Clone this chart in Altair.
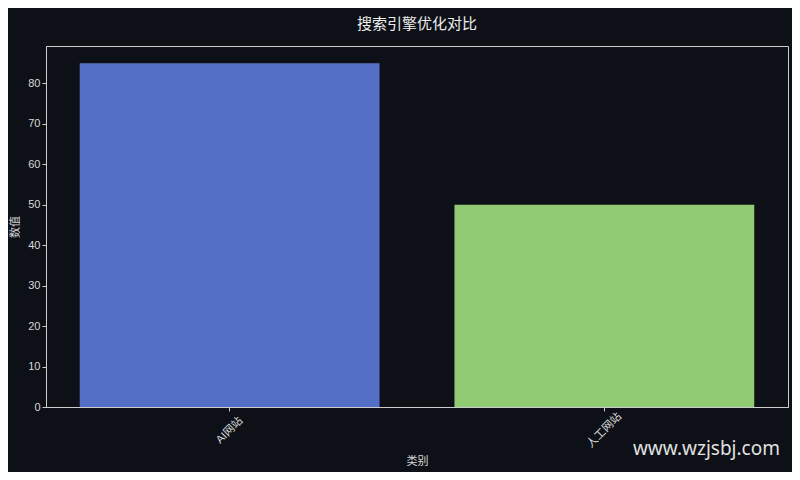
import altair as alt
import pandas as pd

categories = ["AI网站", "人工网站"]
values = [85, 50]
colors = ["#5470c6", "#91cc75"]
watermark = "www.wzjsbj.com"

df = pd.DataFrame({"类别": categories, "数值": values, "color": colors})

FONT = "Liberation Sans, Noto Sans CJK SC, sans-serif"
BG = "#0d1017"

bars = alt.Chart(df).mark_bar().encode(
    x=alt.X("类别:N", sort=categories,
            scale=alt.Scale(paddingInner=0.2, paddingOuter=0.09),
            axis=alt.Axis(title="类别", labelAngle=-45, labelAlign="center",
                          labelBaseline="middle", labelPadding=19)),
    y=alt.Y("数值:Q", scale=alt.Scale(domain=[0, 89.25], nice=False, zero=True),
            axis=alt.Axis(title="数值", values=list(range(0, 90, 10)))),
    color=alt.Color("color:N", scale=None),
)

wm = alt.Chart(pd.DataFrame({"t": [watermark]})).mark_text(
    align="right", baseline="alphabetic", fontSize=19, font="Noto Sans",
    color="#e0e0e0", clip=False,
).encode(x=alt.value(734), y=alt.value(409), text="t:N")

chart = alt.layer(bars, wm).properties(
    width=742, height=361,
    background=BG,
    padding={"left": 38, "top": 38, "right": 4, "bottom": 65},
    autosize=alt.AutoSizeParams(type="none"),
    title=alt.TitleParams("搜索引擎优化对比", fontSize=15, font=FONT, color="#eeeeee",
                          fontWeight="normal", anchor="middle", offset=14),
).configure_view(
    stroke="#cccccc", strokeWidth=1, fill=BG,
).configure_axis(
    labelFont=FONT, titleFont=FONT, labelColor="#d8d8d8", titleColor="#d8d8d8",
    labelFontSize=11, titleFontSize=11, titleFontWeight="normal",
    domainColor="#cccccc", tickColor="#cccccc", tickSize=4, grid=False,
).configure_axisY(titlePadding=7).configure_axisX(titlePadding=6)

chart.save("out.html", embed_options={"renderer": "svg", "actions": False})
